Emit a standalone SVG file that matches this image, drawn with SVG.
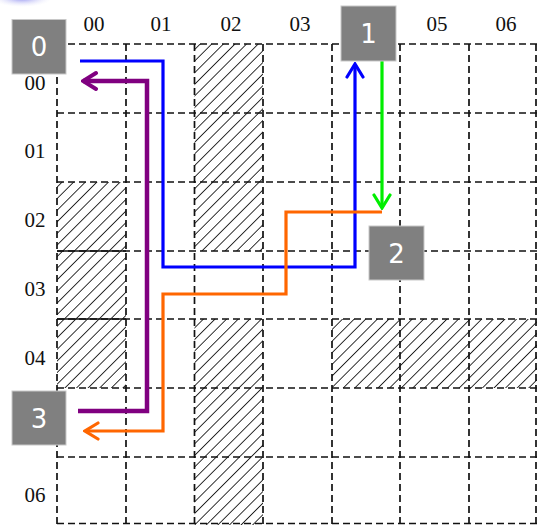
<svg xmlns="http://www.w3.org/2000/svg" width="537" height="525" viewBox="0 0 537 525">
  <style>
    .grid { stroke: #111; stroke-width: 1.7; stroke-dasharray: 7 4; fill: none; }
    .hatch { fill: url(#hatch); stroke: none; }
    .lbl { font-family: "Liberation Serif", serif; font-size: 21px; fill: #111; text-anchor: middle; }
    .box { fill: #808080; stroke: #c8c8c8; stroke-width: 1; }
    .num { font-family: "DejaVu Sans", sans-serif; font-size: 26px; fill: #fff; text-anchor: middle; }
    .conn { fill: none; stroke-linejoin: miter; }
  </style>
  <defs>
    <pattern id="hatch" patternUnits="userSpaceOnUse" width="8.2" height="8.2" patternTransform="rotate(45)">
      <line x1="0" y1="0" x2="0" y2="8.2" stroke="#000" stroke-width="1.6"/>
    </pattern>
    <radialGradient id="blob" cx="0.5" cy="0.5" r="0.5">
      <stop offset="0" stop-color="#8c8cf0"/>
      <stop offset="1" stop-color="#e8e8fa" stop-opacity="0"/>
    </radialGradient>
    <marker id="aBlue" markerUnits="userSpaceOnUse" viewBox="-16 -11 18 22" markerWidth="18" markerHeight="22" refX="0" refY="0" orient="auto">
      <path d="M-13,-8 L0,0 L-13,8" fill="none" stroke="#0000ff" stroke-width="3.2" stroke-linecap="round"/>
    </marker>
    <marker id="aPurple" markerUnits="userSpaceOnUse" viewBox="-16 -11 18 22" markerWidth="18" markerHeight="22" refX="0" refY="0" orient="auto">
      <path d="M-13,-8 L0,0 L-13,8" fill="none" stroke="#800080" stroke-width="4" stroke-linecap="round"/>
    </marker>
    <marker id="aOrange" markerUnits="userSpaceOnUse" viewBox="-16 -11 18 22" markerWidth="18" markerHeight="22" refX="0" refY="0" orient="auto">
      <path d="M-13,-8 L0,0 L-13,8" fill="none" stroke="#ff6600" stroke-width="3.2" stroke-linecap="round"/>
    </marker>
    <marker id="aGreen" markerUnits="userSpaceOnUse" viewBox="-16 -11 18 22" markerWidth="18" markerHeight="22" refX="0" refY="0" orient="auto">
      <path d="M-13,-8 L0,0 L-13,8" fill="none" stroke="#00ee00" stroke-width="3.2" stroke-linecap="round"/>
    </marker>
  </defs>

  <rect x="0" y="0" width="537" height="525" fill="#fff"/>
  <ellipse cx="22" cy="-2" rx="30" ry="9" fill="url(#blob)"/>

  <g id="obstacles">
    <rect class="hatch" x="194.5" y="44" width="68.5" height="207"/>
    <rect class="hatch" x="194.5" y="319" width="68.5" height="206"/>
    <rect class="hatch" x="57" y="182" width="69" height="206"/>
    <rect class="hatch" x="332" y="319" width="205" height="69"/>
    <g stroke="#111" stroke-width="1.4">
      <line x1="57" y1="251" x2="126" y2="251"/>
      <line x1="57" y1="319" x2="126" y2="319"/>
    </g>
  </g>

  <g id="grid">
    <path class="grid" d="M57,44 H537 M57,113 H537 M57,182 H537 M57,251 H537 M57,319 H537 M57,388 H537 M57,457 H537 M57,523.5 H537"/>
    <path class="grid" d="M57,44 V525 M126,44 V525 M194.5,44 V525 M263,44 V525 M332,44 V525 M400,44 V525 M469,44 V525 M536,44 V525"/>
  </g>

  <g id="labels">
    <text class="lbl" x="94" y="31">00</text>
    <text class="lbl" x="161" y="31">01</text>
    <text class="lbl" x="231" y="31">02</text>
    <text class="lbl" x="300" y="31">03</text>
    <text class="lbl" x="437" y="31">05</text>
    <text class="lbl" x="506" y="31">06</text>
    <text class="lbl" x="35" y="90">00</text>
    <text class="lbl" x="35" y="158">01</text>
    <text class="lbl" x="35" y="227">02</text>
    <text class="lbl" x="35" y="296">03</text>
    <text class="lbl" x="35" y="365">04</text>
    <text class="lbl" x="35" y="502">06</text>
  </g>

  <g id="connectors">
    <path class="conn" d="M80,61 H163 V267 H355 V64" stroke="#0000ff" stroke-width="3.2" marker-end="url(#aBlue)"/>
    <path class="conn" d="M382,212 H286 V294 H163 V431 H85" stroke="#ff6600" stroke-width="3.2" marker-end="url(#aOrange)"/>
    <path class="conn" d="M78,411 H147 V81 H83" stroke="#800080" stroke-width="4.5" marker-end="url(#aPurple)"/>
    <path class="conn" d="M382,61 V208" stroke="#00ee00" stroke-width="3.2" marker-end="url(#aGreen)"/>
  </g>

  <g id="node0">
    <rect class="box" x="12" y="19.5" width="54" height="54.5"/>
    <text class="num" x="39" y="56">0</text>
  </g>
  <g id="node1">
    <rect class="box" x="341" y="6" width="55" height="55"/>
    <text class="num" x="368.5" y="43">1</text>
  </g>
  <g id="node2">
    <rect class="box" x="369" y="226" width="55" height="54"/>
    <text class="num" x="396.5" y="263">2</text>
  </g>
  <g id="node3">
    <rect class="box" x="12" y="391" width="54" height="54"/>
    <text class="num" x="39" y="428">3</text>
  </g>
</svg>
